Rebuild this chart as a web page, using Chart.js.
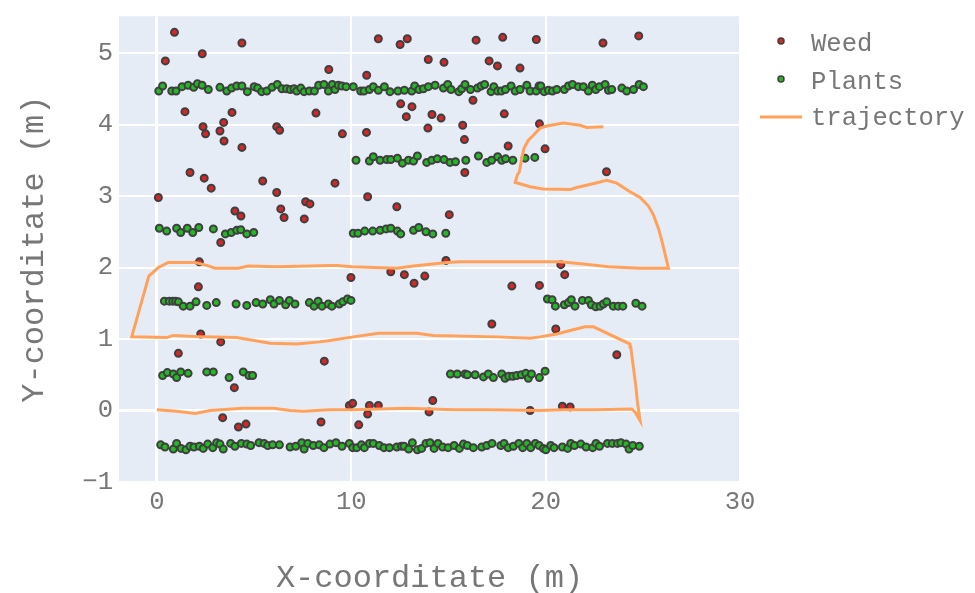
<!DOCTYPE html>
<html><head><meta charset="utf-8">
<script src="https://cdn.jsdelivr.net/npm/chart.js@4.4.1/dist/chart.umd.min.js"></script>
<style>html,body{margin:0;padding:0;background:#fff}canvas{display:block}</style>
</head><body>
<canvas id="c" width="975" height="593"></canvas>
<script>
// ---- tick labels ----
const xTicks = [0, 10, 20, 30];
const yTicks = [-1, 0, 1, 2, 3, 4, 5];
const seriesNames = ['Weed', 'Plants', 'trajectory'];

// ---- Weed (red) ----
const weedX = [0.90,0.43,2.33,4.37,1.44,2.37,2.50,3.24,3.43,3.45, 3.86,4.37,6.16,6.31,8.18,8.84,1.70,11.39,12.51,12.88,
  16.42,17.79,19.52,10.79,13.96,14.77,17.09,17.52,18.68,12.54, 13.12,12.83,14.15,14.62,16.26,17.87,13.94,15.73,15.82,9.54,
  10.78,18.07,19.68,15.84,22.95,24.79,19.97,23.13,9.16,10.84, 12.34,15.04,14.87,9.98,12.03,12.73,13.23,13.78,18.26,19.68,
  20.78,20.98,0.07,2.43,2.79,5.44,6.16,6.37,6.54,7.58, 7.65,7.87,4.01,4.32,3.28,2.18,2.13,2.25,3.28,1.10,
  3.98,3.38,4.19,4.58,8.61,8.44,17.23,9.90,10.07,10.38, 10.84,10.93,11.39,14.19,14.00,19.20,20.52,23.66,20.86,21.26];
const weedY = [5.29,4.89,4.99,5.14,4.18,3.97,3.87,3.91,4.03,3.77, 4.17,3.68,3.97,3.92,4.16,4.77,3.33,5.20,5.12,5.20,
  5.18,5.22,5.19,4.69,4.91,4.87,4.89,4.82,4.79,4.29, 4.25,4.11,4.14,4.09,4.34,4.15,3.95,3.99,3.79,3.87,
  3.89,3.70,4.01,3.33,5.14,5.24,3.66,3.34,3.18,2.99, 2.85,2.74,2.10,1.86,1.94,1.90,1.78,1.88,1.74,1.75,
  2.04,1.90,2.98,3.25,3.11,3.21,3.05,2.82,2.70,2.68, 2.92,2.89,2.79,2.72,2.35,2.08,1.73,1.07,0.96,0.80,
  0.32,-0.10,-0.23,-0.19,0.69,-0.16,1.21,0.07,0.10,-0.20, -0.05,0.07,0.07,0.14,-0.02,0.00,1.14,0.78,0.06,0.05];

// ---- Plants (green), one pair of arrays per crop row ----
const row45X = [0.09,0.29,0.76,0.98,1.29,1.60,1.89,2.08,2.32,2.64,3.24,3.59,3.84,4.10,4.37,4.65,5.00,5.18,5.39,5.65,5.92,6.19,6.43,6.67,6.86,7.05,7.19,7.40,7.57,7.84,8.10,8.32,8.59,8.82,
  9.02,9.16,9.33,9.51,9.73,10.10,10.48,10.65,10.93,11.13,11.39,11.70,11.99,12.40,12.73,13.11,13.26,13.48,13.71,13.96,14.31,14.74,14.96,15.13,15.53,15.68,15.85,16.13,16.49,16.68,16.86,17.19,17.33,17.53,17.72,17.93,18.22,18.43,18.68,19.03,19.20,19.51,19.66,
  19.75,19.92,20.14,20.35,20.57,20.96,21.17,21.38,21.68,21.94,22.20,22.40,22.58,22.77,23.06,23.23,23.40,23.92,24.17,24.52,24.81,25.03];
const row45Y = [4.47,4.54,4.47,4.47,4.53,4.55,4.52,4.57,4.55,4.49,4.52,4.47,4.51,4.54,4.54,4.46,4.53,4.51,4.46,4.47,4.52,4.56,4.50,4.50,4.49,4.50,4.47,4.51,4.46,4.47,4.47,4.55,4.56,4.47,
  4.56,4.49,4.55,4.54,4.53,4.53,4.47,4.47,4.49,4.53,4.48,4.53,4.46,4.47,4.48,4.47,4.54,4.49,4.50,4.53,4.55,4.51,4.56,4.49,4.46,4.50,4.56,4.49,4.51,4.54,4.56,4.46,4.53,4.47,4.47,4.49,4.54,4.47,4.49,4.55,4.47,4.47,4.54,
  4.54,4.46,4.48,4.47,4.49,4.49,4.54,4.56,4.53,4.53,4.47,4.55,4.49,4.53,4.56,4.48,4.49,4.51,4.47,4.49,4.56,4.53];
const row35X = [10.24,10.93,11.13,11.48,11.82,12.03,12.37,12.63,12.94,13.20,13.40,13.88,14.14,14.42,14.77,15.08,15.36,15.89,16.54,16.97,17.22,17.53,17.74,17.94,18.31,18.94,19.44];
const row35Y = [3.50,3.49,3.55,3.50,3.51,3.51,3.53,3.46,3.50,3.49,3.56,3.47,3.50,3.52,3.51,3.47,3.48,3.50,3.56,3.47,3.50,3.55,3.50,3.52,3.50,3.53,3.54];
const row25X = [0.12,0.50,1.01,1.22,1.56,1.84,2.15,2.90,3.52,3.82,4.10,4.31,4.62,4.98,
  10.10,10.34,10.69,11.10,11.48,11.79,12.03,12.37,12.54,13.20,13.47,13.84,14.19,14.86];
const row25Y = [2.55,2.51,2.55,2.49,2.55,2.49,2.56,2.54,2.47,2.49,2.52,2.53,2.47,2.49,
  2.48,2.48,2.51,2.51,2.52,2.54,2.55,2.51,2.47,2.52,2.56,2.50,2.47,2.48];
const row15X = [0.38,0.63,0.81,0.96,1.10,1.35,1.70,2.01,2.56,3.05,4.07,4.62,5.10,5.44,5.83,6.02,6.30,6.62,6.81,7.10,7.84,8.08,8.29,8.49,8.82,9.00,9.38,9.56,9.80,9.98,
  20.09,20.33,20.50,20.96,21.17,21.32,21.51,21.89,22.20,22.35,22.58,22.80,22.97,23.14,23.48,23.73,23.97,24.64,24.96];
const row15Y = [1.53,1.53,1.53,1.53,1.52,1.46,1.46,1.52,1.47,1.51,1.49,1.47,1.51,1.49,1.55,1.49,1.54,1.48,1.54,1.49,1.51,1.46,1.53,1.46,1.49,1.46,1.49,1.52,1.56,1.54,
  1.56,1.55,1.46,1.48,1.51,1.55,1.46,1.54,1.54,1.48,1.45,1.46,1.49,1.52,1.46,1.46,1.46,1.50,1.46];
const row05X = [0.29,0.53,0.84,1.01,1.22,1.60,2.56,2.90,3.71,4.44,4.73,4.92,
  15.10,15.45,15.85,15.97,16.37,16.80,17.05,17.31,17.74,17.91,18.10,18.31,18.51,18.75,18.98,19.11,19.27,19.68,19.97];
const row05Y = [0.49,0.53,0.51,0.46,0.54,0.52,0.54,0.54,0.46,0.54,0.49,0.49,
  0.51,0.51,0.51,0.50,0.50,0.47,0.51,0.46,0.51,0.45,0.48,0.48,0.49,0.50,0.52,0.45,0.51,0.46,0.55];
const rowM05X = [0.19,0.41,0.84,1.01,1.24,1.49,1.70,1.90,2.18,2.38,2.61,2.87,3.07,3.24,3.41,3.79,4.01,4.34,4.62,4.82,5.25,5.51,5.70,5.95,6.30,6.85,7.14,7.45,7.57,7.76,8.04,8.35,8.59,8.90,
  9.21,9.52,9.90,10.07,10.28,10.52,10.67,10.93,11.13,11.44,11.68,11.96,12.34,12.58,12.71,12.95,13.14,13.40,13.62,13.84,14.05,14.26,14.46,14.70,14.98,15.29,15.56,15.77,15.97,16.28,16.71,16.97,17.24,17.69,17.86,18.07,18.34,18.62,18.82,19.03,19.23,19.47,19.66,
  19.88,20.01,20.26,20.43,20.86,21.13,21.29,21.48,21.81,22.08,22.42,22.59,22.77,23.18,23.43,23.69,23.87,24.14,24.29,24.48,24.82];
const rowM05Y = [-0.48,-0.51,-0.54,-0.46,-0.53,-0.55,-0.50,-0.51,-0.50,-0.53,-0.47,-0.52,-0.45,-0.47,-0.54,-0.46,-0.50,-0.46,-0.47,-0.49,-0.45,-0.46,-0.49,-0.48,-0.48,-0.51,-0.50,-0.45,-0.54,-0.46,-0.49,-0.48,-0.52,-0.47,
  -0.45,-0.50,-0.46,-0.52,-0.52,-0.48,-0.52,-0.46,-0.46,-0.49,-0.52,-0.52,-0.51,-0.50,-0.50,-0.54,-0.45,-0.55,-0.53,-0.46,-0.45,-0.53,-0.46,-0.51,-0.52,-0.49,-0.53,-0.47,-0.49,-0.52,-0.51,-0.49,-0.46,-0.49,-0.46,-0.52,-0.50,-0.46,-0.52,-0.46,-0.52,-0.46,-0.49,
  -0.53,-0.55,-0.49,-0.52,-0.51,-0.53,-0.46,-0.49,-0.47,-0.51,-0.52,-0.46,-0.50,-0.46,-0.46,-0.46,-0.45,-0.47,-0.54,-0.49,-0.50];

// ---- trajectory (orange line) ----
const trajX = [0.00,1.01,1.96,2.73,4.44,5.99,6.85,7.53,8.90,10.10,12.83,15.25,16.97,19.71,20.91,22.63,24.43,24.60,24.86,
  24.72,24.65,24.55,24.45,24.38,24.34,
  22.46,22.03,21.26,20.57,19.71,19.20,17.48,14.22,13.36,11.39,10.10,8.90,8.39,7.19,5.82,4.10,2.38,0.84,0.50,-1.30,
  -0.42,0.07,0.58,1.96,2.56,2.99,4.18,4.70,6.16,7.87,8.90,9.25,10.02,12.34,13.20,14.92,15.60,19.71,20.74,21.94,23.23,24.86,26.32,
  26.23,26.03,25.80,25.54,25.29,24.86,24.34,23.66,23.14,22.54,21.60,21.26,19.88,19.20,18.94,18.43,
  18.55,18.65,18.77,18.89,19.11,19.37,19.71,20.06,20.91,21.77,22.11,22.97];
const trajY = [0.01,-0.01,-0.04,0.00,0.03,0.03,0.00,-0.01,0.01,0.01,0.03,0.01,0.01,0.00,0.01,0.01,0.02,-0.02,-0.14,
  0.12,0.32,0.53,0.74,0.89,0.93,
  1.17,1.17,1.12,1.07,1.03,1.01,1.03,1.05,1.08,1.08,1.03,0.98,0.96,0.93,0.94,1.02,1.03,1.05,1.02,1.03,
  1.88,2.00,2.07,2.07,2.03,1.99,1.99,2.02,2.01,2.02,2.03,2.03,2.01,1.99,2.02,2.07,2.08,2.08,2.08,2.05,2.01,1.99,1.99,
  2.09,2.32,2.55,2.74,2.86,2.98,3.06,3.18,3.22,3.18,3.12,3.09,3.10,3.13,3.15,3.19,
  3.30,3.34,3.53,3.67,3.78,3.85,3.95,3.98,4.02,3.99,3.96,3.97];

// ---- build ----
const toPts = (xs, ys) => xs.map((x, i) => ({x: x, y: ys[i]}));
const plantX = [].concat(row45X, row35X, row25X, row15X, row05X, rowM05X);
const plantY = [].concat(row45Y, row35Y, row25Y, row15Y, row05Y, rowM05Y);

const FONT = '"Liberation Mono", "DejaVu Sans Mono", monospace';
const TXT = '#777777';
const PLOT_BG = '#E5ECF6';

const bgPlugin = {
  id: 'plotBg',
  beforeDraw(chart) {
    const {ctx, chartArea: a} = chart;
    ctx.save();
    ctx.fillStyle = PLOT_BG;
    ctx.fillRect(a.left, a.top, a.right - a.left, a.bottom - a.top);
    ctx.restore();
  }
};

const legendPlugin = {
  id: 'sideLegend',
  afterDraw(chart) {
    const ctx = chart.ctx;
    const rows = [44, 82, 118];
    ctx.save();
    ctx.font = '25.6px ' + FONT;
    ctx.textBaseline = 'middle';
    ctx.textAlign = 'left';
    chart.data.datasets.forEach(d => {
      const y = rows[seriesNames.indexOf(d.label)];
      if (d.showLine) {
        ctx.strokeStyle = d.borderColor;
        ctx.lineWidth = 3;
        ctx.beginPath(); ctx.moveTo(760, y - 1); ctx.lineTo(802, y - 1); ctx.stroke();
      } else {
        ctx.beginPath(); ctx.arc(781, y - 3, 3, 0, Math.PI * 2);
        ctx.fillStyle = d.backgroundColor; ctx.fill();
        ctx.lineWidth = 1.5; ctx.strokeStyle = d.borderColor; ctx.stroke();
      }
      ctx.fillStyle = TXT;
      ctx.fillText(d.label, 811, y);
    });
    ctx.restore();
  }
};

const gridWidth = c => (c.tick && c.tick.value === 0) ? 3 : 2;

new Chart(document.getElementById('c'), {
  type: 'scatter',
  data: {
    datasets: [
      {label: seriesNames[2], data: toPts(trajX, trajY), showLine: true, borderColor: '#FFA15A',
       borderWidth: 3, pointRadius: 0, fill: false, tension: 0, order: 0},
      {label: seriesNames[1], data: toPts(plantX, plantY), backgroundColor: '#25b825', borderColor: '#3f3f3f',
       borderWidth: 2, pointRadius: 3.5, order: 1},
      {label: seriesNames[0], data: toPts(weedX, weedY), backgroundColor: '#d62728', borderColor: '#3f3f3f',
       borderWidth: 2, pointRadius: 3.5, order: 2}
    ]
  },
  options: {
    responsive: false,
    animation: false,
    devicePixelRatio: 1,
    layout: {padding: {left: 0, right: 235, top: 14, bottom: 0}},
    plugins: {legend: {display: false}, tooltip: {enabled: false}},
    scales: {
      x: {
        type: 'linear', position: 'bottom', min: -1.955, max: 30,
        afterBuildTicks: s => { s.ticks = xTicks.map(v => ({value: v})); },
        afterFit: s => { s.height = 111; },
        grid: {color: '#ffffff', lineWidth: gridWidth, drawTicks: false},
        border: {display: false},
        ticks: {font: {family: FONT, size: 25.6}, color: TXT, padding: 5, maxRotation: 0, autoSkip: false,
                callback: v => String(v)},
        title: {display: true, text: 'X-coorditate (m)', color: TXT,
                font: {family: FONT, size: 32, lineHeight: 1}, padding: {top: 0, bottom: -2}}
      },
      y: {
        type: 'linear', min: -1, max: 5.515,
        afterBuildTicks: s => { s.ticks = yTicks.map(v => ({value: v})); },
        afterFit: s => { s.width = 119; },
        grid: {color: '#ffffff', lineWidth: gridWidth, drawTicks: false},
        border: {display: false},
        ticks: {font: {family: FONT, size: 25.6, lineHeight: 0.8}, color: TXT, padding: 6, autoSkip: false,
                callback: v => v < 0 ? '\u2212' + Math.abs(v) : String(v)},
        title: {display: true, text: 'Y-coorditate (m)', color: TXT,
                font: {family: FONT, size: 32, lineHeight: 1}, padding: {top: 19, bottom: 0}}
      }
    }
  },
  plugins: [bgPlugin, legendPlugin]
});
</script>
</body></html>
